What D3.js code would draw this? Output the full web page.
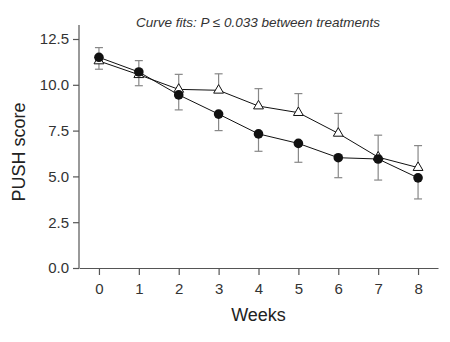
<!DOCTYPE html>
<html>
<head>
<meta charset="utf-8">
<script src="https://cdn.jsdelivr.net/npm/d3@7"></script>
<style>
  body { margin: 0; background: #fff; }
  svg { font-family: "Liberation Sans", Arial, sans-serif; }
</style>
</head>
<body>
<div id="vis"></div>
<script>
// datos
const weeks = [0, 1, 2, 3, 4, 5, 6, 7, 8];
const yTicks = [0, 2.5, 5, 7.5, 10, 12.5];

// circulos negros
const circleMean = [11.5, 10.7, 9.45, 8.4, 7.32, 6.8, 6.02, 5.95, 4.92];
const circleErr = [0.53, 0.62, 0.82, 0.9, 0.95, 1.03, 1.09, 1.15, 1.15];
const circleDir = [1, 1, -1, -1, -1, -1, -1, -1, -1];

// triangulos blancos
const triMean = [11.3, 10.55, 9.75, 9.7, 8.84, 8.48, 7.35, 6.05, 5.48];
const triErr = [0.45, 0.6, 0.82, 0.9, 0.95, 1.04, 1.09, 1.2, 1.2];
const triDir = [-1, -1, 1, 1, 1, 1, 1, 1, 1];

const WIDTH = 450;
const HEIGHT = 342;

const SVG = d3.select("#vis").append("svg")
    .attr("width", WIDTH).attr("height", HEIGHT);

const x = d3.scaleLinear().domain([-0.5, 8.5]).range([79, 438]);
const y = d3.scaleLinear().domain([0, 12.5]).range([268, 39]);

// ejes
const axisColor = "#555";
const gx = SVG.append("g").attr("transform", `translate(0, ${y(0)})`)
    .call(d3.axisBottom(x).tickValues(weeks).tickSize(7).tickPadding(8).tickSizeOuter(0));
const gy = SVG.append("g").attr("transform", `translate(${x(-0.5)}, 0)`)
    .call(d3.axisLeft(y).tickValues(yTicks).tickFormat(d3.format(".1f")).tickSize(6).tickPadding(4).tickSizeOuter(0));

// alargar eje y hacia arriba como en el original
gy.select(".domain").attr("d", `M0,${y(0)}V25`);

[gx, gy].forEach(g => {
    g.selectAll(".domain").attr("stroke", axisColor).attr("stroke-width", 1.2);
    g.selectAll(".tick line").attr("stroke", axisColor).attr("stroke-width", 1.2);
    g.selectAll(".tick text").attr("fill", "#333").style("font-size", "15px")
        .style("font-family", "Liberation Sans, Arial, sans-serif");
});

// textos
SVG.append("text").attr("x", x(4)).attr("y", 321).attr("text-anchor", "middle")
    .attr("fill", "#222").style("font-size", "18px").text("Weeks");

SVG.append("text").attr("transform", `translate(25, 152) rotate(-90)`)
    .attr("text-anchor", "middle").attr("fill", "#222").style("font-size", "18px")
    .text("PUSH score");

SVG.append("text").attr("x", 258).attr("y", 27).attr("text-anchor", "middle")
    .attr("fill", "#333").style("font-size", "13.5px").style("font-style", "italic")
    .text("Curve fits: P \u2264 0.033 between treatments");

const circles = weeks.map((w, i) => ({ w, v: circleMean[i], e: circleErr[i], d: circleDir[i] }));
const tris = weeks.map((w, i) => ({ w, v: triMean[i], e: triErr[i], d: triDir[i] }));

// barras de error
function errorBars(data) {
    const g = SVG.append("g").attr("stroke", "#888").attr("stroke-width", 1.2);
    g.selectAll("line.v").data(data).join("line").attr("class", "v")
        .attr("x1", d => x(d.w)).attr("x2", d => x(d.w))
        .attr("y1", d => y(d.v)).attr("y2", d => y(d.v + d.d * d.e));
    g.selectAll("line.cap").data(data).join("line").attr("class", "cap")
        .attr("x1", d => x(d.w) - 4).attr("x2", d => x(d.w) + 4)
        .attr("y1", d => y(d.v + d.d * d.e)).attr("y2", d => y(d.v + d.d * d.e));
}
errorBars(circles);
errorBars(tris);

// lineas
const line = d3.line().x(d => x(d.w)).y(d => y(d.v));
SVG.append("path").datum(tris).attr("d", line).attr("fill", "none")
    .attr("stroke", "#111").attr("stroke-width", 1);
SVG.append("path").datum(circles).attr("d", line).attr("fill", "none")
    .attr("stroke", "#111").attr("stroke-width", 1);

// marcadores
SVG.append("g").selectAll("path").data(tris).join("path")
    .attr("transform", d => `translate(${x(d.w)}, ${y(d.v)})`)
    .attr("d", d3.symbol(d3.symbolTriangle, 42)())
    .attr("fill", "#fff").attr("stroke", "#111").attr("stroke-width", 1);

SVG.append("g").selectAll("circle").data(circles).join("circle")
    .attr("cx", d => x(d.w)).attr("cy", d => y(d.v)).attr("r", 4.8)
    .attr("fill", "#111");
</script>
</body>
</html>
